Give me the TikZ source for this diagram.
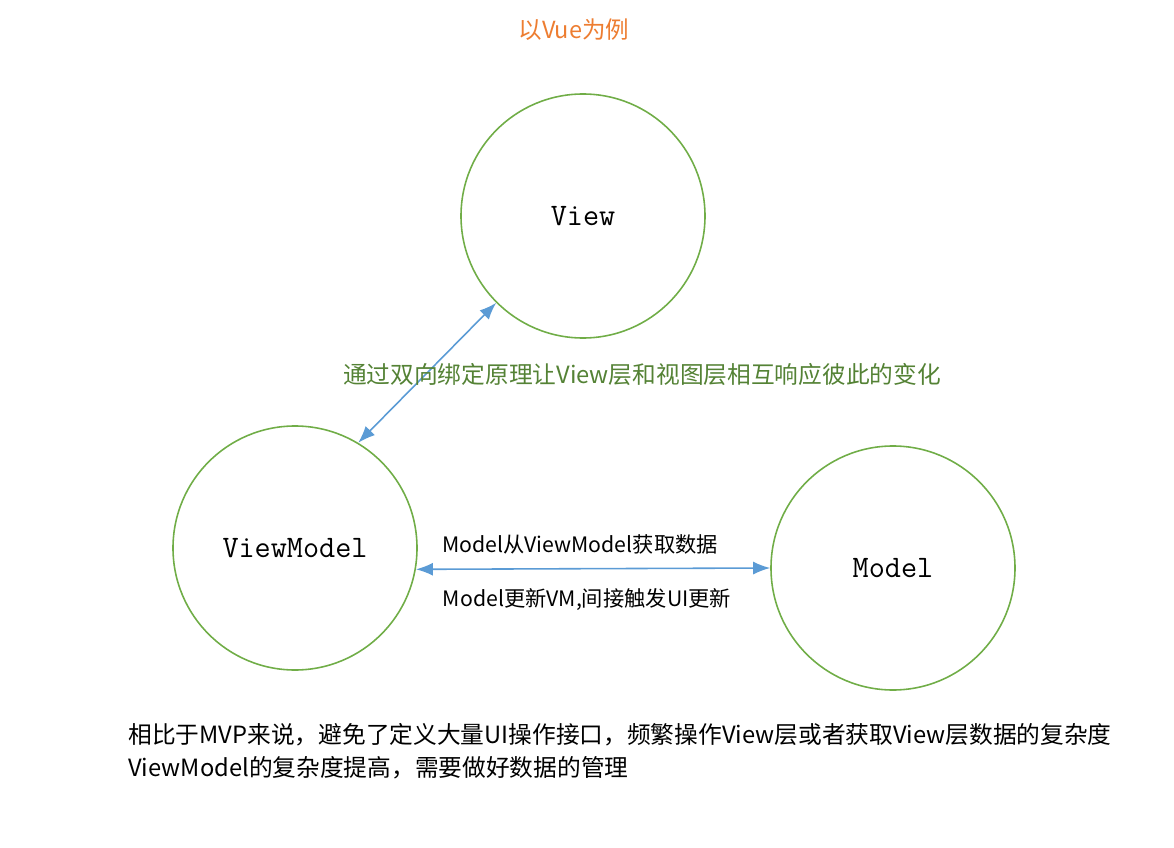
\documentclass[tikz,border=0pt]{standalone}
\usepackage{fontspec}
\usepackage[RGB]{xcolor}
\usetikzlibrary{arrows.meta}
\newfontfamily\cjk{Noto Sans CJK SC}
\definecolor{ring}{RGB}{112,173,71}
\definecolor{leaf}{RGB}{84,130,53}
\definecolor{link}{RGB}{91,155,213}
\definecolor{title}{RGB}{237,125,49}
\tikzset{
  layer/.style={circle,draw=ring,line width=0.9pt,minimum size=244*0.02cm,inner sep=0pt,
    font=\fontsize{17.8}{20}\selectfont\ttfamily},
  bind/.style={draw=link,line width=0.9pt,{Latex[length=3.4mm,width=2.6mm]}-{Latex[length=3.4mm,width=2.6mm]}},
  note/.style={inner sep=0pt,font=\cjk\fontsize{12.1}{14}\selectfont}
}
\begin{document}
\begin{tikzpicture}[x=0.02cm,y=-0.02cm]
\useasboundingbox (0,0) rectangle (1174,848);
\node[inner sep=0pt,text=title,font=\cjk\fontsize{13.4}{16}\selectfont] (vue) at (574,30) {以Vue为例};
% the three layers
\node[layer] (View) at (583,216) {View};
\node[layer] (ViewModel) at (295,548) {ViewModel};
\node[layer] (Model) at (893,568) {Model};
% links between them
\draw[bind] (ViewModel.59) -- (View.225);
\draw[bind] (ViewModel.-10) -- (Model.west);
\node[inner sep=0pt,text=leaf,font=\cjk\fontsize{13.5}{16}\selectfont] (binding) at (642,374) {通过双向绑定原理让View层和视图层相互响应彼此的变化};
\node[note] (fetch) at (580,544) {Model从ViewModel获取数据};
\node[note] (update) at (587,600) {Model更新VM,间接触发UI更新};
% summary below
\node[inner sep=0pt,anchor=west,align=left,font=\cjk\fontsize{13.5}{18.7}\selectfont] (summary) at (128,751)
  {相比于MVP来说，避免了定义大量UI操作接口，频繁操作View层或者获取View层数据的复杂度\\ViewModel的复杂度提高，需要做好数据的管理};
\end{tikzpicture}
\end{document}
